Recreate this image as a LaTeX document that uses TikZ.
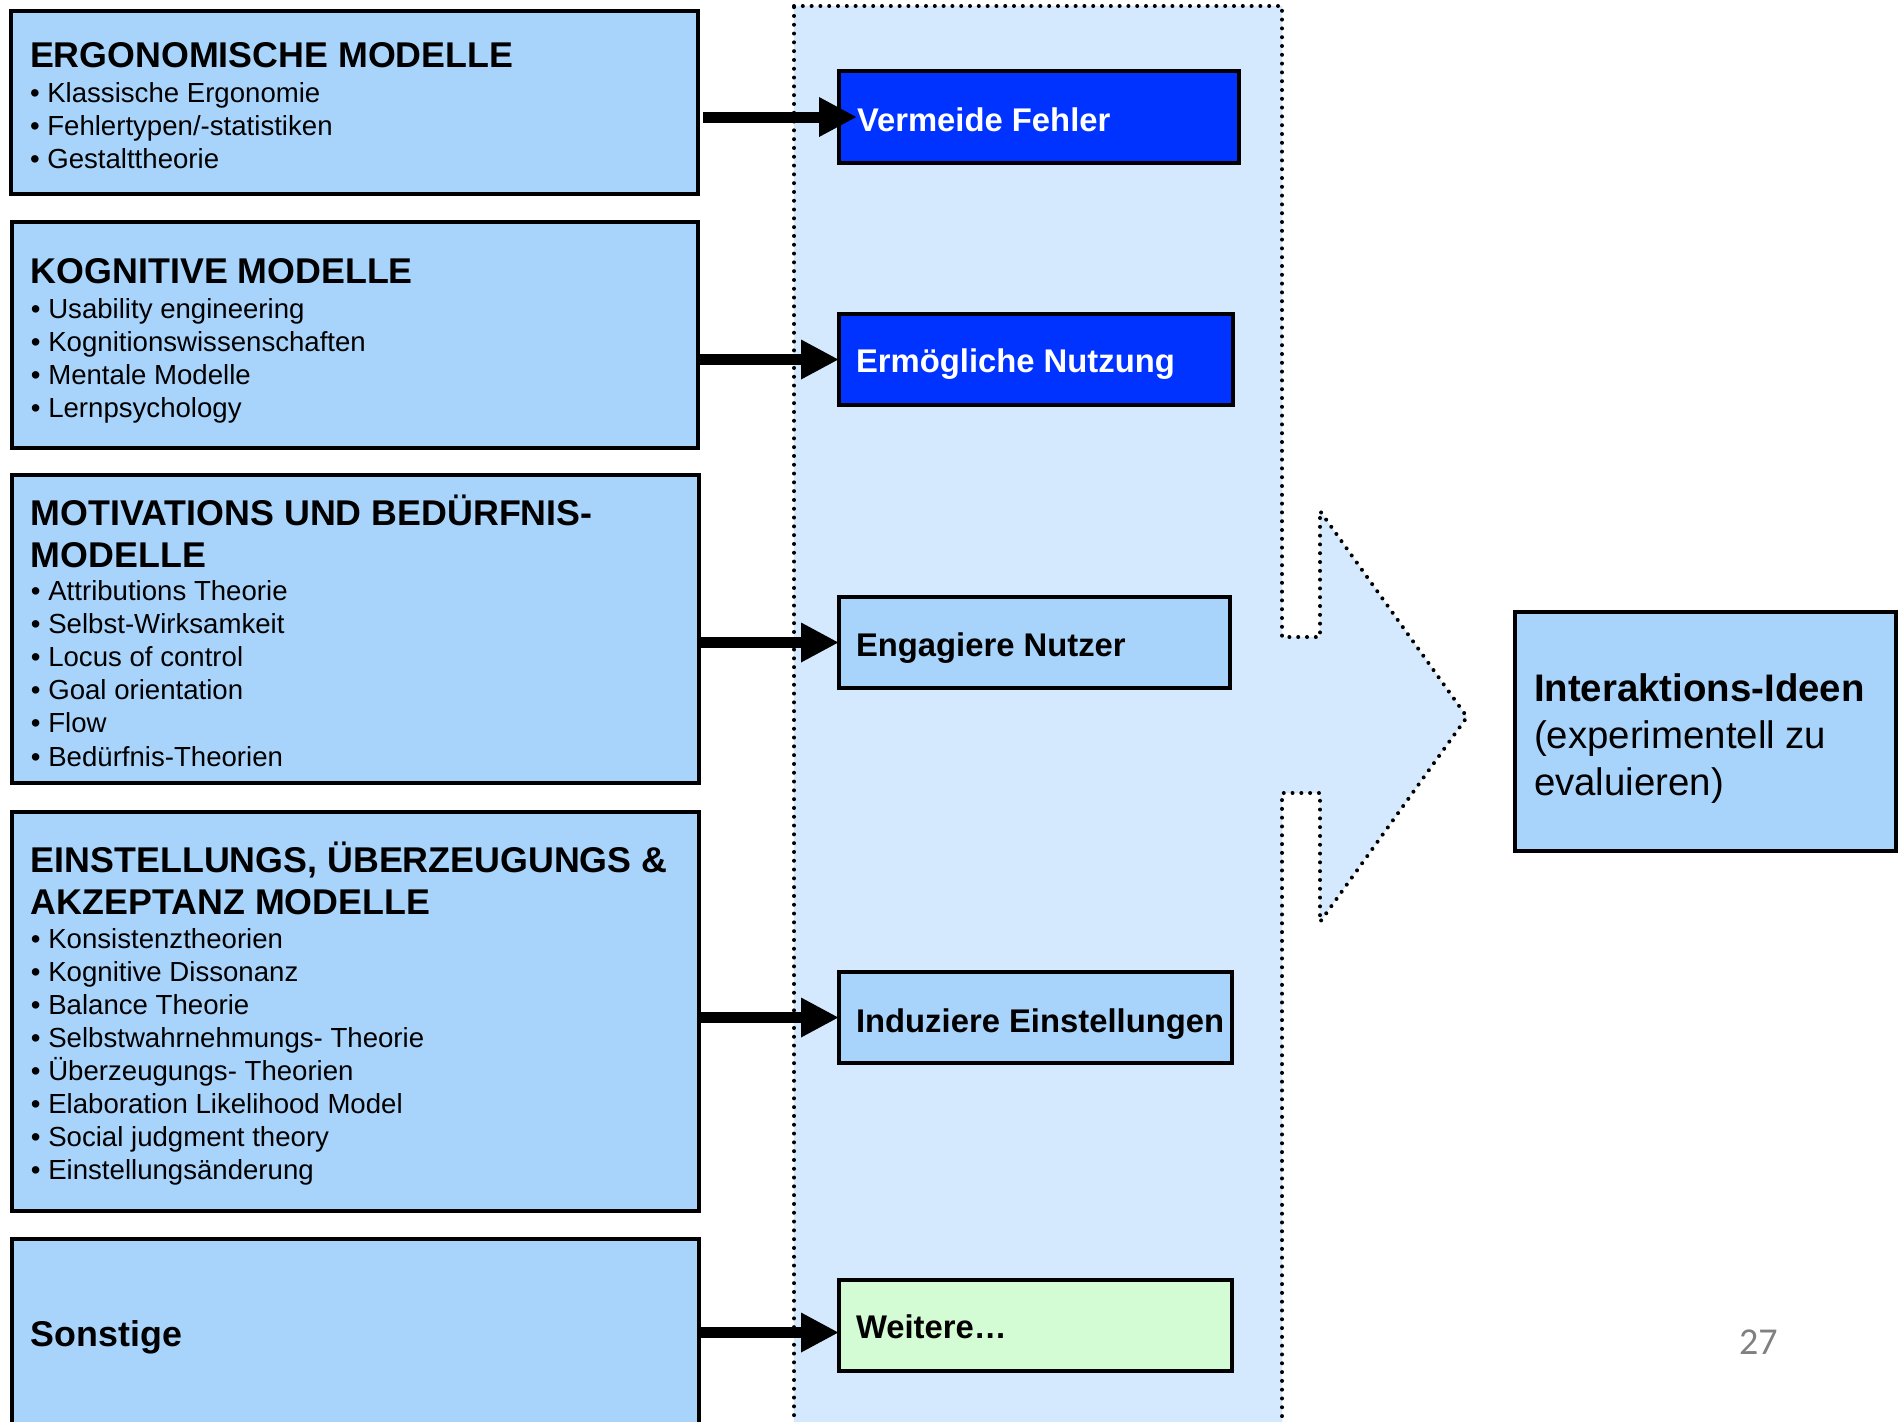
\documentclass[tikz,border=0pt]{standalone}
\usepackage{fontspec}
\setmainfont{Liberation Sans}
\newfontfamily\pagenumfont{Carlito}
\usetikzlibrary{arrows.meta}
\definecolor{modelblue}{RGB}{168,212,252}
\definecolor{panelblue}{RGB}{212,233,253}
\definecolor{goalblue}{RGB}{0,51,255}
\definecolor{goalgreen}{RGB}{212,252,212}
\definecolor{pagegray}{RGB}{128,128,128}
\begin{document}
\begin{tikzpicture}[x=0.5pt,y=-0.5pt,
  framed/.style 2 args={draw=black,line width=2pt,anchor=north west,inner sep=0pt,outer sep=0pt,
    minimum width={#1*0.5pt},minimum height={#2*0.5pt}},
  model/.style 2 args={framed={#1}{#2},fill=modelblue},
  goal/.style 2 args={framed={#1}{#2},fill=goalblue},
  goallight/.style 2 args={framed={#1}{#2},fill=modelblue},
  goalmore/.style 2 args={framed={#1}{#2},fill=goalgreen},
  txt/.style={anchor=base west,inner sep=0pt,outer sep=0pt},
  title/.style={txt,font=\fontsize{17.9}{21}\selectfont\bfseries},
  item/.style={txt,font=\fontsize{13.8}{16.5}\selectfont},
  goaltext/.style={txt,font=\fontsize{16.4}{20}\selectfont\bfseries},
  ideatitle/.style={txt,font=\fontsize{19.2}{23}\selectfont\bfseries},
  ideatext/.style={txt,font=\fontsize{19.2}{23}\selectfont},
  dotline/.style={line width=2pt,dash pattern=on 0pt off 4.4pt,line cap=round},
  conn/.style={line width=5.5pt,-{Triangle[length=19pt,width=18.5pt]}}
]
\useasboundingbox (0,0) rectangle (1901,1421);
\clip (0,0) rectangle (1901,1421);

% goal column merging into the big arrow
\path[fill=panelblue,draw=black,dotline]
  (794,6) -- (1282,6) -- (1282,637) -- (1320,637) -- (1320,511) -- (1467,717)
  -- (1320,922) -- (1320,793) -- (1282,793) -- (1282,1440) -- (794,1440) -- cycle;

% model boxes
\node[model={687}{183}] (m1) at (11,11) {};
\node[model={686}{226}] (m2) at (12,222) {};
\node[model={687}{308}] (m3) at (12,475) {};
\node[model={687}{399}] (m4) at (12,812) {};
\node[model={687}{230}] (m5) at (12,1239) {};

\node[title] (m1t) at (30,67) {ERGONOMISCHE MODELLE};
\foreach \t [count=\i from 0] in {Klassische Ergonomie,Fehlertypen/-statistiken,Gestalttheorie}
  \node[item] (m1i\i) at (30,{102+33*\i}) {• \t};

\node[title] (m2t) at (31,283) {KOGNITIVE MODELLE};
\foreach \t [count=\i from 0] in {Usability engineering,Kognitionswissenschaften,Mentale Modelle,Lernpsychology}
  \node[item] (m2i\i) at (31,{318+33.3*\i}) {• \t};

\node[title] (m3t) at (31,525) {MOTIVATIONS UND BEDÜRFNIS-};
\node[title] (m3u) at (31,567) {MODELLE};
\foreach \t [count=\i from 0] in {Attributions Theorie,Selbst-Wirksamkeit,Locus of control,Goal orientation,Flow,Bedürfnis-Theorien}
  \node[item] (m3i\i) at (31,{600+33.2*\i}) {• \t};

\node[title] (m4t) at (31,872) {EINSTELLUNGS, ÜBERZEUGUNGS \&};
\node[title] (m4u) at (31,914) {AKZEPTANZ MODELLE};
\foreach \t [count=\i from 0] in {Konsistenztheorien,Kognitive Dissonanz,Balance Theorie,Selbstwahrnehmungs- Theorie,Überzeugungs- Theorien,Elaboration Likelihood Model,Social judgment theory,Einstellungsänderung}
  \node[item] (m4i\i) at (31,{948+33.1*\i}) {• \t};

\node[title] (m5t) at (31,1346) {Sonstige};

% goal boxes
\node[goal={400}{92}] (v1) at (839,71) {};
\node[goal={394}{91}] (v2) at (839,314) {};
\node[goallight={391}{91}] (v3) at (839,597) {};
\node[goallight={393}{91}] (v4) at (839,972) {};
\node[goalmore={393}{91}] (v5) at (839,1280) {};

\node[goaltext,text=white] (v1t) at (857,131) {Vermeide Fehler};
\node[goaltext,text=white] (v2t) at (856,372) {Ermögliche Nutzung};
\node[goaltext] (v3t) at (856,656) {Engagiere Nutzer};
\node[goaltext] (v4t) at (856,1032) {Induziere Einstellungen};
\node[goaltext] (v5t) at (856,1338) {Weitere…};

% result box
\node[model={381}{239}] (r) at (1515,612) {};
\node[ideatitle] (rt) at (1534,701) {Interaktions-Ideen};
\node[ideatext] (ru) at (1534,748) {(experimentell zu};
\node[ideatext] (rv) at (1534,795) {evaluieren)};

% connectors
\draw[conn,shorten <=2.5pt,shorten >=-9pt] (m1.east |- v1.west) -- (v1.west);
\draw[conn] (m2.east |- v2.west) -- (v2.west);
\draw[conn] (m3.east |- v3.west) -- (v3.west);
\draw[conn] (m4.east |- v4.west) -- (v4.west);
\draw[conn] (m5.east |- v5.west) ++(0,7) -- ([yshift=-3.5pt]v5.west);

% page number
\node[txt,font=\pagenumfont\fontsize{19}{23}\selectfont,text=pagegray] (page) at (1739,1354) {27};
\end{tikzpicture}
\end{document}
